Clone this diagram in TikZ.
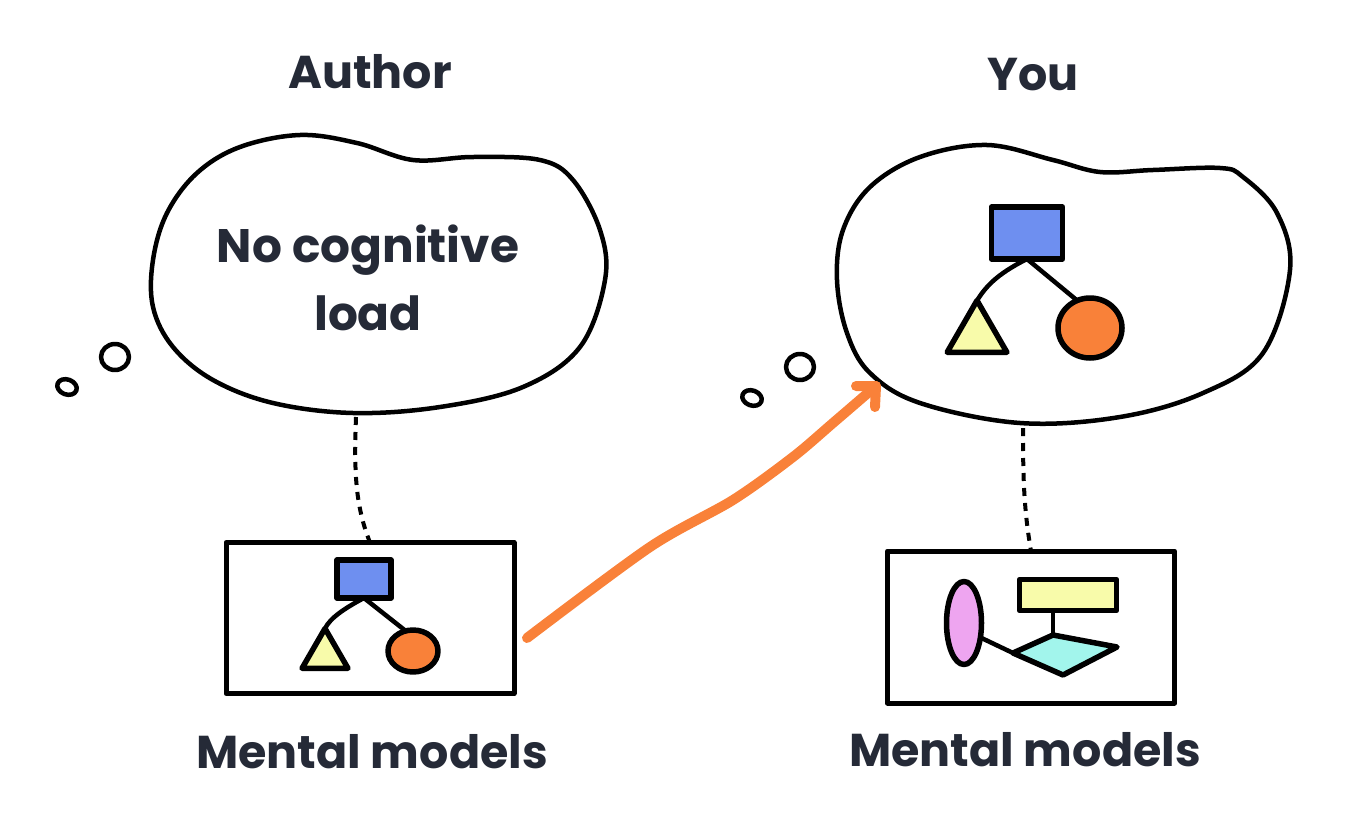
\documentclass[tikz,border=0pt]{standalone}
\usepackage{fontspec}
\setmainfont{Poppins}
\usetikzlibrary{shapes.geometric}
\definecolor{txt}{HTML}{252A37}
\definecolor{fblue}{HTML}{6E8FF0}
\definecolor{fyellow}{HTML}{F8FBAA}
\definecolor{forange}{HTML}{F98139}
\definecolor{fpink}{HTML}{EEA5F0}
\definecolor{fcyan}{HTML}{A2F5EC}
\tikzset{
  ink/.style={draw=black, line width=4.5pt, line join=round, line cap=round},
  shp/.style={draw=black, line width=5.5pt, line join=round, inner sep=0pt, outer sep=0pt},
  conn/.style={draw=black, line width=4.5pt, line cap=round, line join=round},
  title/.style={font=\fontsize{46}{54}\selectfont\bfseries, text=txt},
  bigtxt/.style={font=\fontsize{47}{68}\selectfont\bfseries, text=txt, align=center},
  dotline/.style={draw=black, line width=4pt, dash pattern=on 8pt off 7pt},
  arrowline/.style={draw=forange, line width=10pt, line cap=round, line join=round},
  boxframe/.style={draw=black, line width=5pt, line join=round, inner sep=0pt, outer sep=0pt, fill=white}
}
\begin{document}
\begin{tikzpicture}[x=1pt,y=-1pt]
\useasboundingbox (0,0) rectangle (1366,819);

% titles
\node[title] (author) at (370,72) {Author};
\node[title] (you) at (1033,75) {You};

% left cloud
\draw[ink] plot[smooth cycle, tension=0.6] coordinates {
 (300,135) (357,143) (413,160) (473,157) (540,160) (573,180) (600,230) (605,280)
 (580,347) (523,387) (440,407) (353,413) (273,403) (213,380) (173,347) (153,307)
 (153,260) (167,213) (197,173) (240,147)};
\node[bigtxt] (nocog) at (368,278) {No cognitive\\load};

% right cloud
\draw[ink] plot[smooth cycle, tension=0.6] coordinates {
 (987,145) (1053,160) (1100,172) (1153,170) (1220,168) (1243,177) (1277,213) (1290,270)
 (1263,353) (1203,393) (1120,417) (1020,423) (920,403) (870,373) (847,333) (837,280)
 (843,230) (870,187) (920,157)};

% thought bubbles
\draw[ink] (115,357) ellipse[x radius=14, y radius=13];
\draw[ink, rotate around={-20:(67,387)}] (67,387) ellipse[x radius=10, y radius=7.5];
\draw[ink] (800,367) ellipse[x radius=14, y radius=13];
\draw[ink, rotate around={-20:(752,398)}] (752,398) ellipse[x radius=10, y radius=7.5];

% boxes
\node[boxframe, minimum width=288pt, minimum height=151pt] (lbox) at (370,618) {};
\node[boxframe, minimum width=287pt, minimum height=152pt] (rbox) at (1031,627) {};

% dotted links
\coordinate (lcb) at (356,417);
\coordinate (rcb) at (1023,428);
\draw[dotline] (lcb) .. controls (354,470) and (355,505) .. (lbox.north);
\draw[dotline] (rcb) .. controls (1023,480) and (1024,510) .. (rbox.north);

% left box tree
\node[shp, fill=fblue, minimum width=54pt, minimum height=38pt] (lrect) at (364,579) {};
\node[shp, fill=fyellow, regular polygon, regular polygon sides=3, minimum size=53pt] (ltri) at (325,655) {};
\node[shp, fill=forange, ellipse, minimum width=50pt, minimum height=42pt] (lblob) at (413,651) {};
\draw[conn] (lrect.south) .. controls (345,608) and (330,618) .. (ltri.corner 1);
\draw[conn] (lrect.south) -- (lblob.110);

% right cloud tree
\node[shp, fill=fblue, minimum width=71pt, minimum height=52pt] (rrect) at (1027,233) {};
\node[shp, fill=fyellow, regular polygon, regular polygon sides=3, minimum size=69pt] (rtri) at (977,335) {};
\node[shp, fill=forange, ellipse, minimum width=64pt, minimum height=60pt] (rblob) at (1090,328) {};
\draw[conn] (rrect.south) .. controls (995,275) and (985,288) .. (rtri.corner 1);
\draw[conn] (rrect.south) -- (rblob.115);

% right box model
\node[shp, fill=fpink, ellipse, minimum width=35pt, minimum height=83pt] (pell) at (964,623) {};
\node[shp, fill=fyellow, minimum width=97pt, minimum height=31pt] (yrect) at (1068,595) {};
\coordinate (dl) at (1013,653);
\coordinate (dt) at (1053,635);
\coordinate (dr) at (1117,647);
\coordinate (db) at (1063,675);
\filldraw[shp, fill=fcyan] (dl) -- (dt) -- (dr) -- (db) -- cycle;
\draw[conn] (yrect.south -| dt) -- (dt);
\draw[conn] (pell.east |- 0,638) -- (dl);

% orange arrow
\coordinate (astart) at (527,638);
\coordinate (atip) at (876,386);
\draw[arrowline] plot[smooth, tension=0.5] coordinates {(527,638) (650,547) (733,500) (793,457) (833,423) (876,386)};
\draw[arrowline] (856,386) -- (atip) -- (875,407);

% labels
\node[title] (lmm) at (372,752) {Mental models};
\node[title] (rmm) at (1025,750) {Mental models};
\end{tikzpicture}
\end{document}
